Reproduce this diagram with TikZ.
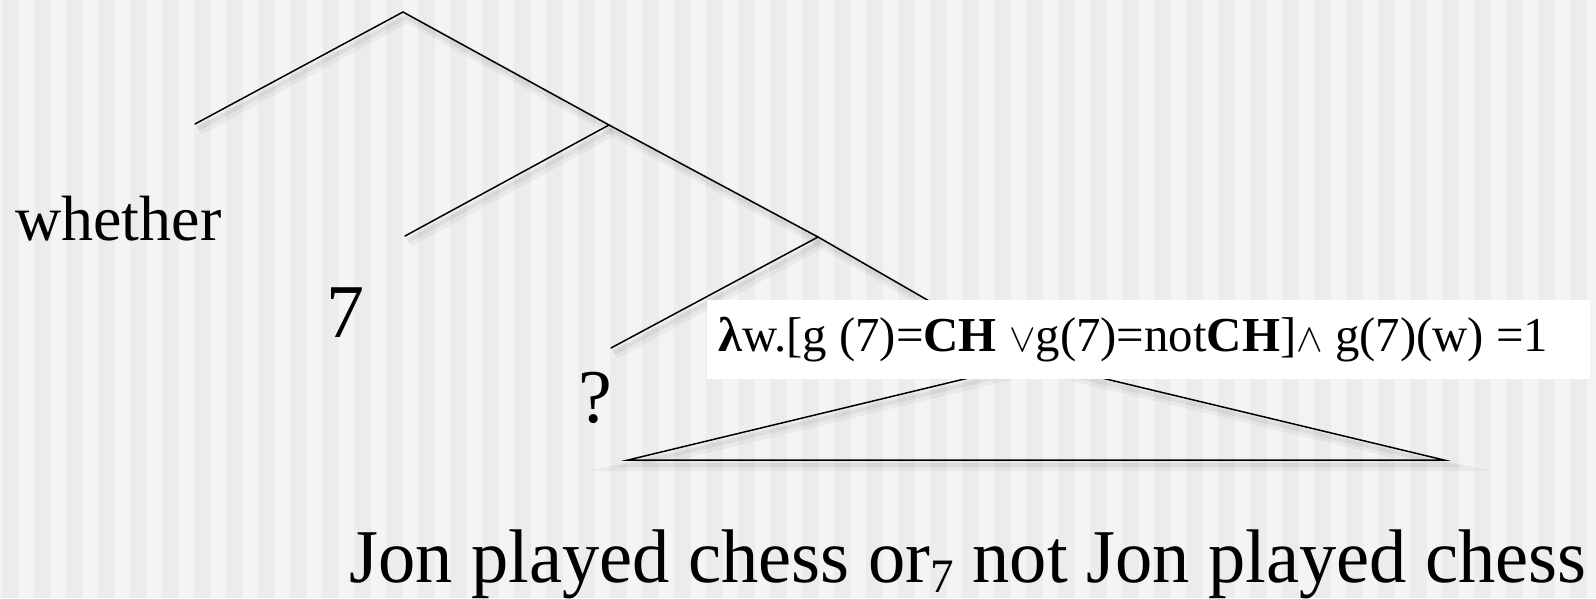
\documentclass[tikz,border=0pt]{standalone}
\usepackage{fontspec}
\setmainfont{Liberation Serif}
\definecolor{Cpaper}{HTML}{F4F4F4}
\definecolor{Cstripe}{HTML}{ECECEC}
\newcommand{\bigor}{\scalebox{1.6}{$\vee$}}
\newcommand{\bigand}{\scalebox{1.6}{$\wedge$}}
\tikzset{
  branch/.style={line width=1.5pt, line cap=round,
    preaction={draw=black, opacity=0.04, line width=10pt, transform canvas={shift={(4pt,-6pt)}}},
    preaction={draw=black, opacity=0.05, line width=4pt, transform canvas={shift={(3pt,-5pt)}}}},
  word/.style={inner sep=0pt, anchor=base west},
}

\begin{document}
\begin{tikzpicture}[x=1pt,y=-1pt]
  \fill[Cpaper] (0,0) rectangle (1596,598);
  \foreach \k in {0,...,49}
    \fill[Cstripe] ({2+32*\k},0) rectangle ({19+32*\k},598);
  \useasboundingbox (0,0) rectangle (1596,598);

  % tree points
  \coordinate (root) at (403,12);
  \coordinate (n1) at (609,125);
  \coordinate (n2) at (818,237);
  \coordinate (top) at (1035,362);
  \coordinate (whetherEnd) at (195,124);
  \coordinate (sevenEnd) at (405,236);
  \coordinate (qEnd) at (611,348);
  \coordinate (baseL) at (628,460);
  \coordinate (baseR) at (1444,460);

  \draw[branch] (whetherEnd) -- (root) -- (n1) -- (n2) -- (top);
  \draw[branch] (n1) -- (sevenEnd);
  \draw[branch] (n2) -- (qEnd);
  \draw[branch] (top) -- (baseL) -- (baseR) -- cycle;

  \node[word] (whether) at (15,240) {\fontsize{64}{70}\selectfont whether};
  \node[word] (seven) at (326,337) {\fontsize{76}{80}\selectfont 7};
  \node[word] (qmark) at (578,422) {\fontsize{76}{80}\selectfont ?};

  % the formula box
  \fill[white] (707,300) rectangle (1590,379);
  \node[word] (formula) at (718,351) {\fontsize{48.8}{52}\selectfont
    {\bfseries λ}w.[g (7)=\textbf{CH} \bigor g(7)=not\textbf{CH}]\bigand\ g(7)(w) =1};

  \node[word, xscale=0.98] (clause) at (349,582) {\fontsize{76}{80}\selectfont
    Jon played chess or\raisebox{-0.14em}{\fontsize{48}{50}\selectfont 7} not Jon played chess};
\end{tikzpicture}
\end{document}
